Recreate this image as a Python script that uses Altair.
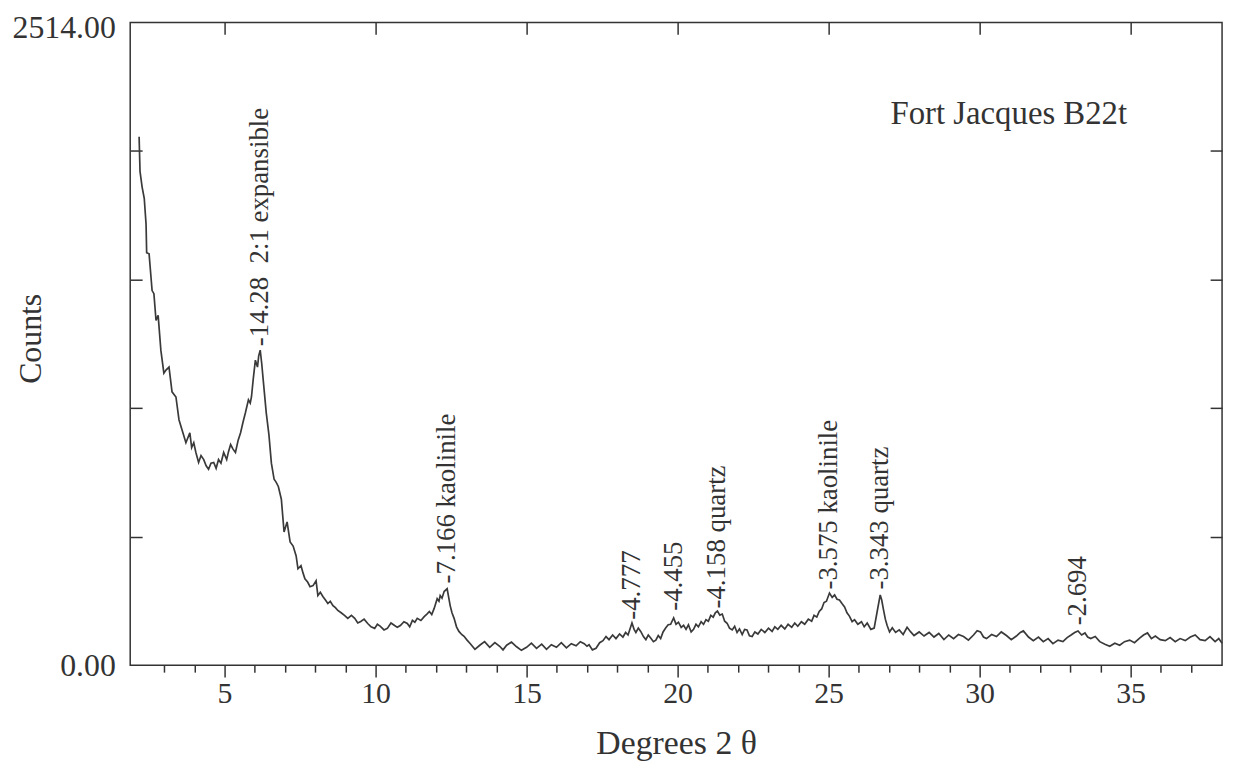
import altair as alt
import pandas as pd

# ---- data ----
theta_rise = [
    2.17, 2.20, 2.27, 2.34, 2.40, 2.42, 2.50, 2.60, 2.66, 2.73,
    2.80, 2.89, 2.99, 3.06, 3.16, 3.26, 3.39, 3.49, 3.59, 3.72,
    3.85, 3.91, 3.98, 4.05, 4.14, 4.22, 4.31, 4.39, 4.47, 4.55,
    4.64, 4.72, 4.80, 4.88, 4.97, 5.07, 5.13, 5.20, 5.28, 5.36,
    5.45, 5.53, 5.61, 5.69, 5.79, 5.85, 5.89, 5.95, 6.02, 6.09,
    6.13, 6.18, 6.23, 6.28, 6.38, 6.47, 6.55, 6.64, 6.71, 6.78,
    6.88, 6.97, 7.07, 7.17, 7.27, 7.37, 7.43, 7.53, 7.60, 7.66,
    7.75, 7.83, 7.93, 8.03, 8.09, 8.17, 8.26, 8.34, 8.42, 8.50,
    8.59, 8.67, 8.75, 8.86, 8.98, 9.08, 9.20, 9.31, 9.41, 9.51,
    9.62, 9.74, 9.85, 9.97, 10.06, 10.16, 10.28, 10.39, 10.51, 10.63,
    10.72, 10.82, 10.94, 11.05, 11.13, 11.22, 11.30, 11.38, 11.50, 11.61,
    11.70, 11.78, 11.86, 11.94, 12.04, 12.10, 12.14, 12.20, 12.27, 12.37,
    12.47, 12.53, 12.60, 12.68, 12.76, 12.85, 12.93, 13.03,
]
counts_rise = [
    2067, 1931, 1870, 1826, 1725, 1613, 1609, 1465, 1453, 1348,
    1368, 1232, 1142, 1154, 1166, 1069, 1049, 960, 921, 870,
    909, 851, 870, 832, 793, 820, 804, 780, 766, 790,
    793, 770, 804, 790, 832, 804, 835, 863, 845, 832,
    880, 909, 950, 987, 1038, 1025, 1049, 1120, 1193, 1166,
    1210, 1232, 1180, 1115, 987, 900, 790, 727, 715, 699,
    649, 521, 560, 482, 466, 427, 377, 389, 360, 338,
    325, 307, 311, 330, 272, 285, 268, 255, 241, 250,
    233, 225, 214, 205, 194, 183, 195, 183, 165, 171,
    180, 163, 150, 144, 160, 152, 138, 144, 165, 155,
    148, 155, 170, 163, 150, 175, 168, 183, 175, 190,
    200, 210, 198, 222, 260, 250, 272, 262, 288, 299,
    233, 205, 183, 150, 132, 120, 113, 98,
]
theta_flat = [
    13.13, 13.29, 13.45, 13.61, 13.78, 13.95, 14.11, 14.22, 14.34, 14.50,
    14.67, 14.83, 15.00, 15.16, 15.33, 15.50, 15.66, 15.82, 15.99, 16.15,
    16.32, 16.48, 16.64, 16.78, 16.91, 17.00, 17.07, 17.18, 17.30, 17.42,
    17.53, 17.63, 17.73, 17.85, 17.96, 18.08, 18.19, 18.28, 18.36, 18.49,
    18.56, 18.62, 18.70, 18.78, 18.87, 18.95, 19.03, 19.11, 19.20, 19.28,
    19.36, 19.44, 19.52, 19.61, 19.69, 19.77, 19.87, 19.95, 20.03, 20.12,
    20.20, 20.28, 20.36, 20.45, 20.53, 20.61, 20.69, 20.78, 20.86, 20.94,
    21.02, 21.10, 21.18, 21.25, 21.32, 21.40, 21.48, 21.56, 21.64, 21.72,
    21.81, 21.89, 21.97, 22.05, 22.14, 22.22, 22.30, 22.38, 22.47, 22.56,
    22.66, 22.77, 22.89, 23.01, 23.13, 23.22, 23.32, 23.43, 23.55, 23.66,
    23.78, 23.88, 23.98, 24.10, 24.21, 24.33, 24.44, 24.52, 24.61, 24.69,
    24.77, 24.85, 24.93, 25.03, 25.12, 25.20, 25.28, 25.36, 25.45, 25.53,
    25.61, 25.69, 25.78, 25.86, 25.97, 26.09, 26.18, 26.28, 26.40, 26.51,
    26.61, 26.71, 26.76, 26.81, 26.88, 26.94, 27.02, 27.11, 27.22, 27.34,
    27.47, 27.60, 27.72, 27.83, 28.00, 28.16, 28.33, 28.49, 28.65, 28.82,
    28.98, 29.14, 29.30, 29.47, 29.63, 29.80, 29.92, 30.03, 30.13, 30.23,
    30.40, 30.56, 30.72, 30.89, 31.05, 31.22, 31.35, 31.45, 31.62, 31.78,
    31.95, 32.11, 32.27, 32.43, 32.60, 32.76, 32.90, 33.03, 33.15, 33.26,
    33.38, 33.49, 33.58, 33.68, 33.83, 33.98, 34.15, 34.31, 34.48, 34.64,
    34.80, 34.97, 35.13, 35.30, 35.43, 35.56, 35.69, 35.82, 35.98, 36.15,
    36.31, 36.48, 36.64, 36.81, 36.98, 37.14, 37.30, 37.47, 37.63, 37.80,
    37.92, 38.03,
]
counts_flat = [
    85, 62, 78, 92, 70, 88, 74, 60, 78, 90,
    72, 58, 70, 86, 66, 82, 62, 80, 70, 88,
    68, 84, 76, 92, 84, 74, 80, 60, 66, 88,
    96, 112, 100, 118, 104, 122, 110, 128, 118, 165,
    140, 128, 145, 132, 112, 100, 118, 106, 92, 98,
    116, 104, 130, 146, 158, 160, 185, 160, 168, 148,
    156, 140, 158, 130, 140, 160, 150, 170, 160, 178,
    172, 195, 188, 205, 212, 196, 200, 172, 164, 145,
    138, 152, 128, 142, 120, 140, 138, 115, 112, 130,
    122, 140, 128, 145, 132, 150, 140, 156, 142, 160,
    148, 165, 152, 170, 160, 180, 172, 195, 188, 210,
    220, 245, 250, 282, 265, 275, 258, 255, 240, 228,
    205, 192, 170, 178, 160, 170, 150, 165, 140, 145,
    210, 275, 255, 222, 180, 155, 130, 146, 128, 138,
    120, 148, 130, 116, 130, 114, 128, 110, 124, 100,
    118, 104, 120, 112, 98, 118, 135, 130, 110, 104,
    120, 112, 130, 116, 100, 114, 128, 134, 110, 96,
    110, 92, 104, 84, 98, 92, 108, 118, 128, 134,
    118, 126, 110, 104, 112, 92, 82, 74, 86, 78,
    92, 98, 88, 106, 118, 126, 104, 114, 100, 96,
    108, 92, 104, 96, 110, 118, 100, 96, 112, 92,
    104, 86,
]

peak_theta = [6.18, 12.37, 18.49, 19.87, 21.32, 25.03, 26.71, 33.26]
peak_label_counts = [1240, 312, 170, 205, 214, 288, 288, 148]
peak_text = [
    "-14.28\u00a0\u00a02:1 expansible",
    "-7.166 kaolinile",
    "-4.777",
    "-4.455",
    "-4.158 quartz",
    "-3.575 kaolinile",
    "-3.343 quartz",
    "-2.694",
]

sample_theta = [27.05]
sample_counts = [2157]
sample_text = ["Fort Jacques B22t"]

major_ticks = [5, 10, 15, 20, 25, 30, 35]
minor_ticks = [t for t in range(3, 38) if t % 5 != 0]
y_bottom_label = [0]
y_top_label = [2514]
y_inner_ticks = [502.8, 1005.6, 1508.4, 2011.2]

# ---- chart ----
W, H = 1099, 647
FONT = "Liberation Serif"
INK = "#333333"

df = pd.DataFrame({"theta": theta_rise + theta_flat, "counts": counts_rise + counts_flat})
peaks = pd.DataFrame({"theta": peak_theta, "counts": peak_label_counts, "label": peak_text})
sample = pd.DataFrame({"theta": sample_theta, "counts": sample_counts, "label": sample_text})

xs = alt.Scale(domain=[1.875, 38.03], nice=False, zero=False)
ys = alt.Scale(domain=[0, 2514], nice=False, zero=False)

line = alt.Chart(df).mark_line(color="#3a3a3a", strokeWidth=1.7).encode(
    x=alt.X(
        "theta:Q", scale=xs,
        axis=alt.Axis(
            orient="bottom", values=major_ticks, tickSize=12, tickWidth=1.5,
            tickColor=INK, domain=False, grid=False,
            labelFont=FONT, labelFontSize=30, labelColor=INK, labelPadding=2,
            title="Degrees 2 \u03b8", titleFont=FONT, titleFontSize=34,
            titleFontWeight="normal", titleColor=INK,
            titleX=W / 2, titleY=79, titleAlign="center", titleBaseline="middle",
        ),
    ),
    y=alt.Y(
        "counts:Q", scale=ys,
        axis=alt.Axis(
            orient="left", values=y_bottom_label, format=".2f", ticks=False,
            tickSize=0, domain=False, grid=False,
            labelFont=FONT, labelFontSize=32, labelColor=INK, labelPadding=15,
            title="Counts", titleFont=FONT, titleFontSize=32,
            titleFontWeight="normal", titleColor=INK,
            titleX=-100, titleY=318, titleAngle=270, titleAlign="center",
            titleBaseline="middle",
        ),
    ),
)

top_label = alt.Chart(df).mark_line(strokeOpacity=0).encode(
    x=alt.X(
        "theta:Q", scale=xs,
        axis=alt.Axis(
            orient="bottom", ticks=False, labels=False, domain=False,
            grid=False, title="",
        ),
    ),
    y=alt.Y(
        "counts:Q", scale=ys,
        axis=alt.Axis(
            orient="left", values=y_top_label, format=".2f", ticks=False,
            tickSize=0, domain=False, grid=False,
            labelFont=FONT, labelFontSize=32, labelColor=INK, labelPadding=15,
            labelOffset=5, title="",
        ),
    ),
)

labels = alt.Chart(peaks).mark_text(
    angle=270, align="left", baseline="middle", dx=2,
    font=FONT, fontSize=27, color=INK,
).encode(
    x=alt.X(
        "theta:Q", scale=xs,
        axis=alt.Axis(
            orient="bottom", values=minor_ticks, tickSize=7, tickWidth=1.5,
            tickColor=INK, labels=False, domain=False, grid=False, title="",
        ),
    ),
    y=alt.Y(
        "counts:Q", scale=ys,
        axis=alt.Axis(
            orient="right", offset=-W, values=y_inner_ticks, tickSize=12,
            tickWidth=1.5, tickColor=INK, labels=False, domain=False,
            grid=False, title="",
        ),
    ),
    text="label:N",
)

sample_label = alt.Chart(sample).mark_text(
    align="left", baseline="middle", font=FONT, fontSize=33, color=INK,
).encode(
    x=alt.X(
        "theta:Q", scale=xs,
        axis=alt.Axis(
            orient="bottom", offset=-H, values=major_ticks, tickSize=12,
            tickWidth=1.5, tickColor=INK, labels=False, domain=False,
            grid=False, title="",
        ),
    ),
    y=alt.Y(
        "counts:Q", scale=ys,
        axis=alt.Axis(
            orient="left", offset=-W, values=y_inner_ticks, tickSize=12,
            tickWidth=1.5, tickColor=INK, labels=False, domain=False,
            grid=False, title="",
        ),
    ),
    text="label:N",
)

chart = (
    alt.layer(line, top_label, labels, sample_label)
    .resolve_axis(x="independent", y="independent")
    .properties(
        width=W, height=H,
        autosize=alt.AutoSizeParams(type="none"),
        padding={"left": 123, "top": 12, "right": 10, "bottom": 98},
        background="white",
    )
    .configure_view(stroke=INK, strokeWidth=1.5)
)

chart.save("out.html", embed_options={"renderer": "svg", "actions": False})
